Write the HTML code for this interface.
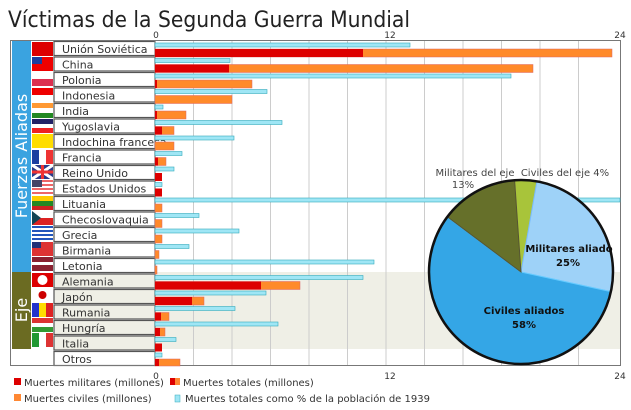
<!DOCTYPE html>
<html><head><meta charset="utf-8"><style>
html,body{margin:0;padding:0;background:#fff}
svg{display:block}
text{font-family:"DejaVu Sans","Liberation Sans",sans-serif}
</style></head><body>
<svg width="631" height="410" viewBox="0 0 631 410" xmlns="http://www.w3.org/2000/svg">
<text x="8" y="27" font-size="22" fill="#222" textLength="402" lengthAdjust="spacingAndGlyphs">Víctimas de la Segunda Guerra Mundial</text>
<rect x="155" y="272" width="465" height="77" fill="#efefe6"/>
<g stroke="#ccc" stroke-width="1">
<line x1="193.5" y1="41" x2="193.5" y2="365"/><line x1="232" y1="41" x2="232" y2="365"/><line x1="270.5" y1="41" x2="270.5" y2="365"/><line x1="309" y1="41" x2="309" y2="365"/><line x1="347.5" y1="41" x2="347.5" y2="365"/><line x1="386" y1="41" x2="386" y2="365"/><line x1="424.5" y1="41" x2="424.5" y2="365"/><line x1="463" y1="41" x2="463" y2="365"/><line x1="501.5" y1="41" x2="501.5" y2="365"/><line x1="540" y1="41" x2="540" y2="365"/><line x1="578.5" y1="41" x2="578.5" y2="365"/>
</g>
<g font-size="9" fill="#333" text-anchor="middle">
<text x="156" y="38">0</text><text x="390" y="38">12</text><text x="620" y="38">24</text>
<text x="156" y="379">0</text><text x="390" y="379">12</text><text x="620" y="379">24</text>
</g>
<rect x="12" y="41" width="19" height="231" fill="#3aa3e0"/>
<rect x="12" y="272" width="19" height="77" fill="#6b6b22"/>
<text transform="translate(27,156) rotate(-90)" font-size="16" fill="#fff" text-anchor="middle">Fuerzas Aliadas</text>
<text transform="translate(27,310) rotate(-90)" font-size="16" fill="#fff" text-anchor="middle">Eje</text>
<g>
<rect x="32" y="42" width="21" height="14" fill="#d00"/>
<rect x="32" y="57" width="21" height="14" fill="#e00"/><rect x="32" y="57" width="10" height="7" fill="#1a3ea0"/>
<rect x="32" y="72" width="21" height="7" fill="#fff"/><rect x="32" y="79" width="21" height="7" fill="#dc3050"/>
<rect x="32" y="88" width="21" height="7" fill="#e00"/><rect x="32" y="95" width="21" height="7" fill="#fff"/>
<rect x="32" y="103" width="21" height="5" fill="#f93"/><rect x="32" y="108" width="21" height="5" fill="#fff"/><rect x="32" y="113" width="21" height="5" fill="#282"/>
<rect x="32" y="119" width="21" height="5" fill="#226"/><rect x="32" y="124" width="21" height="4" fill="#fff"/><rect x="32" y="128" width="21" height="5" fill="#e22"/>
<rect x="32" y="134" width="21" height="14" fill="#fd0"/>
<rect x="32" y="150" width="7" height="14" fill="#1a3ea0"/><rect x="39" y="150" width="7" height="14" fill="#fff"/><rect x="46" y="150" width="7" height="14" fill="#e33"/>
<rect x="32" y="165" width="21" height="14" fill="#2a3c8a"/><path d="M32 165 L53 179 M53 165 L32 179" stroke="#fff" stroke-width="3"/><path d="M42.5 165 V179 M32 172 H53" stroke="#e33" stroke-width="3"/>
<rect x="32" y="180" width="21" height="14" fill="#e66"/><rect x="32" y="182" width="21" height="2" fill="#fff"/><rect x="32" y="186" width="21" height="2" fill="#fff"/><rect x="32" y="190" width="21" height="2" fill="#fff"/><rect x="32" y="180" width="10" height="7" fill="#446"/>
<rect x="32" y="196" width="21" height="5" fill="#fc0"/><rect x="32" y="201" width="21" height="5" fill="#282"/><rect x="32" y="206" width="21" height="4" fill="#c22"/>
<rect x="32" y="211" width="21" height="7" fill="#fff"/><rect x="32" y="218" width="21" height="7" fill="#d22"/><path d="M32 211 L41 218 L32 225Z" fill="#145"/>
<rect x="32" y="226" width="21" height="14" fill="#2255bb"/><rect x="32" y="228" width="21" height="2" fill="#fff"/><rect x="32" y="232" width="21" height="2" fill="#fff"/><rect x="32" y="236" width="21" height="2" fill="#fff"/>
<rect x="32" y="242" width="21" height="14" fill="#d33"/><rect x="32" y="242" width="9" height="6" fill="#237"/>
<rect x="32" y="257" width="21" height="14" fill="#8a2030"/><rect x="32" y="262" width="21" height="3" fill="#fff"/>
<rect x="32" y="273" width="21" height="14" fill="#d00"/><circle cx="42.5" cy="280" r="5" fill="#fff"/>
<rect x="32" y="288" width="21" height="14" fill="#fff"/><circle cx="42.5" cy="295" r="4" fill="#c00"/>
<rect x="32" y="303" width="7" height="14" fill="#23c"/><rect x="39" y="303" width="7" height="14" fill="#fd0"/><rect x="46" y="303" width="7" height="14" fill="#d22"/>
<rect x="32" y="318" width="21" height="5" fill="#d33"/><rect x="32" y="323" width="21" height="4" fill="#fff"/><rect x="32" y="327" width="21" height="5" fill="#393"/>
<rect x="32" y="333" width="7" height="14" fill="#293"/><rect x="39" y="333" width="7" height="14" fill="#fff"/><rect x="46" y="333" width="7" height="14" fill="#d33"/>
</g>
<g fill="#fff" stroke="#555" stroke-width="1.2">
<rect x="54" y="41.5" width="101" height="14"/><rect x="54" y="57" width="101" height="14"/><rect x="54" y="72.5" width="101" height="14"/><rect x="54" y="88" width="101" height="14"/><rect x="54" y="103.5" width="101" height="14"/><rect x="54" y="119" width="101" height="14"/><rect x="54" y="134.5" width="101" height="14"/><rect x="54" y="150" width="101" height="14"/><rect x="54" y="165.5" width="101" height="14"/><rect x="54" y="181" width="101" height="14"/><rect x="54" y="196.5" width="101" height="14"/><rect x="54" y="212" width="101" height="14"/><rect x="54" y="227.5" width="101" height="14"/><rect x="54" y="243" width="101" height="14"/><rect x="54" y="258.5" width="101" height="14"/>
<g fill="#efefe6"><rect x="54" y="274" width="101" height="14"/><rect x="54" y="289.5" width="101" height="14"/><rect x="54" y="305" width="101" height="14"/><rect x="54" y="320.5" width="101" height="14"/><rect x="54" y="336" width="101" height="14"/></g>
<rect x="54" y="351.5" width="101" height="14"/>
</g>
<g font-size="11" fill="#333">
<text x="62" y="53">Unión Soviética</text><text x="62" y="68.5">China</text><text x="62" y="84">Polonia</text><text x="62" y="99.5">Indonesia</text><text x="62" y="115">India</text><text x="62" y="130.5">Yugoslavia</text><text x="62" y="146">Indochina francesa</text><text x="62" y="161.5">Francia</text><text x="62" y="177">Reino Unido</text><text x="62" y="192.5">Estados Unidos</text><text x="62" y="208">Lituania</text><text x="62" y="223.5">Checoslovaquia</text><text x="62" y="239">Grecia</text><text x="62" y="254.5">Birmania</text><text x="62" y="270">Letonia</text><text x="62" y="285.5">Alemania</text><text x="62" y="301">Japón</text><text x="62" y="316.5">Rumania</text><text x="62" y="332">Hungría</text><text x="62" y="347.5">Italia</text><text x="62" y="363">Otros</text>
</g>
<rect x="10.5" y="40.5" width="610" height="325" fill="none" stroke="#777" stroke-width="1"/>
<line x1="155" y1="41" x2="155" y2="365" stroke="#777"/>
<g>
<g fill="#9fe6f5" stroke="#3ab" stroke-width="0.6">
<rect x="155" y="43" width="255" height="4"/><rect x="155" y="58.5" width="75" height="4"/><rect x="155" y="74" width="356" height="4"/><rect x="155" y="89.5" width="112" height="4"/><rect x="155" y="105" width="8" height="4"/><rect x="155" y="120.5" width="127" height="4"/><rect x="155" y="136" width="79" height="4"/><rect x="155" y="151.5" width="27" height="4"/><rect x="155" y="167" width="19" height="4"/><rect x="155" y="182.5" width="7" height="4"/><rect x="155" y="198" width="465" height="4"/><rect x="155" y="213.5" width="44" height="4"/><rect x="155" y="229" width="84" height="4"/><rect x="155" y="244.5" width="34" height="4"/><rect x="155" y="260" width="219" height="4"/><rect x="155" y="275.5" width="208" height="4"/><rect x="155" y="291" width="111" height="4"/><rect x="155" y="306.5" width="80" height="4"/><rect x="155" y="322" width="123" height="4"/><rect x="155" y="337.5" width="21" height="4"/><rect x="155" y="353" width="7" height="4"/>
</g>
<g fill="#ff8a2a" stroke="#d66" stroke-width="0.5">
<rect x="155" y="49" width="457" height="8"/><rect x="155" y="64.5" width="378" height="8"/><rect x="155" y="80" width="97" height="8"/><rect x="155" y="95.5" width="77" height="8"/><rect x="155" y="111" width="31" height="8"/><rect x="155" y="126.5" width="19" height="8"/><rect x="155" y="142" width="19" height="8"/><rect x="155" y="157.5" width="11" height="8"/><rect x="155" y="204" width="7" height="8"/><rect x="155" y="219.5" width="7" height="8"/><rect x="155" y="235" width="7" height="8"/><rect x="155" y="250.5" width="4" height="8"/><rect x="155" y="266" width="2" height="8"/><rect x="155" y="281.5" width="145" height="8"/><rect x="155" y="297" width="49" height="8"/><rect x="155" y="312.5" width="14" height="8"/><rect x="155" y="328" width="10" height="8"/><rect x="155" y="359" width="25" height="7"/>
</g>
<g fill="#dd0000">
<rect x="155" y="49" width="208" height="8"/><rect x="155" y="64.5" width="74" height="8"/><rect x="155" y="80" width="2" height="8"/><rect x="155" y="111" width="2" height="8"/><rect x="155" y="126.5" width="7" height="8"/><rect x="155" y="157.5" width="3" height="8"/><rect x="155" y="173" width="7" height="8"/><rect x="155" y="188.5" width="7" height="8"/><rect x="155" y="281.5" width="106" height="8"/><rect x="155" y="297" width="37" height="8"/><rect x="155" y="312.5" width="6" height="8"/><rect x="155" y="328" width="5" height="8"/><rect x="155" y="343.5" width="7" height="8"/><rect x="155" y="359" width="4" height="7"/>
</g>
</g>
<g transform="translate(521,272)" stroke-width="1">
<path d="M0 0 L-6.4 -91.8 A92 92 0 0 1 15.9 -90.6 Z" fill="#a8c43a" stroke="#cc4"/>
<path d="M0 0 L15.9 -90.6 A92 92 0 0 1 89.9 19.6 Z" fill="#9ed2f8" stroke="#7bf"/>
<path d="M0 0 L89.9 19.6 A92 92 0 1 1 -73.6 -55.2 Z" fill="#34a6e6" stroke="#6cf"/>
<path d="M0 0 L-73.6 -55.2 A92 92 0 0 1 -6.4 -91.8 Z" fill="#66702a" stroke="#553"/>
<circle r="92" fill="none" stroke="#111" stroke-width="2.5"/>
</g>
<g font-size="10" fill="#111" text-anchor="middle">
<text x="475" y="176" fill="#444">Militares del eje</text><text x="463" y="188" fill="#444">13%</text>
<text x="565" y="176" fill="#444">Civiles del eje 4%</text>
<text x="569" y="252" font-weight="bold">Militares aliado</text><text x="568" y="266" font-weight="bold">25%</text>
<text x="524" y="314" font-weight="bold">Civiles aliados</text><text x="524" y="328" font-weight="bold">58%</text>
</g>
<g font-size="10" fill="#333">
<rect x="14" y="378" width="7" height="7" fill="#d00"/><text x="24" y="386">Muertes militares (millones)</text>
<rect x="170" y="378" width="5" height="7" fill="#d00"/><rect x="175" y="378" width="5" height="7" fill="#f83"/><text x="183" y="386">Muertes totales (millones)</text>
<rect x="14" y="394" width="7" height="7" fill="#f83"/><text x="24" y="402">Muertes civiles (millones)</text>
<rect x="175" y="395" width="5" height="7" fill="#9fe6f5" stroke="#3ab" stroke-width="0.5"/><text x="185" y="402">Muertes totales como % de la población de 1939</text>
</g>
</svg>
</body></html>
